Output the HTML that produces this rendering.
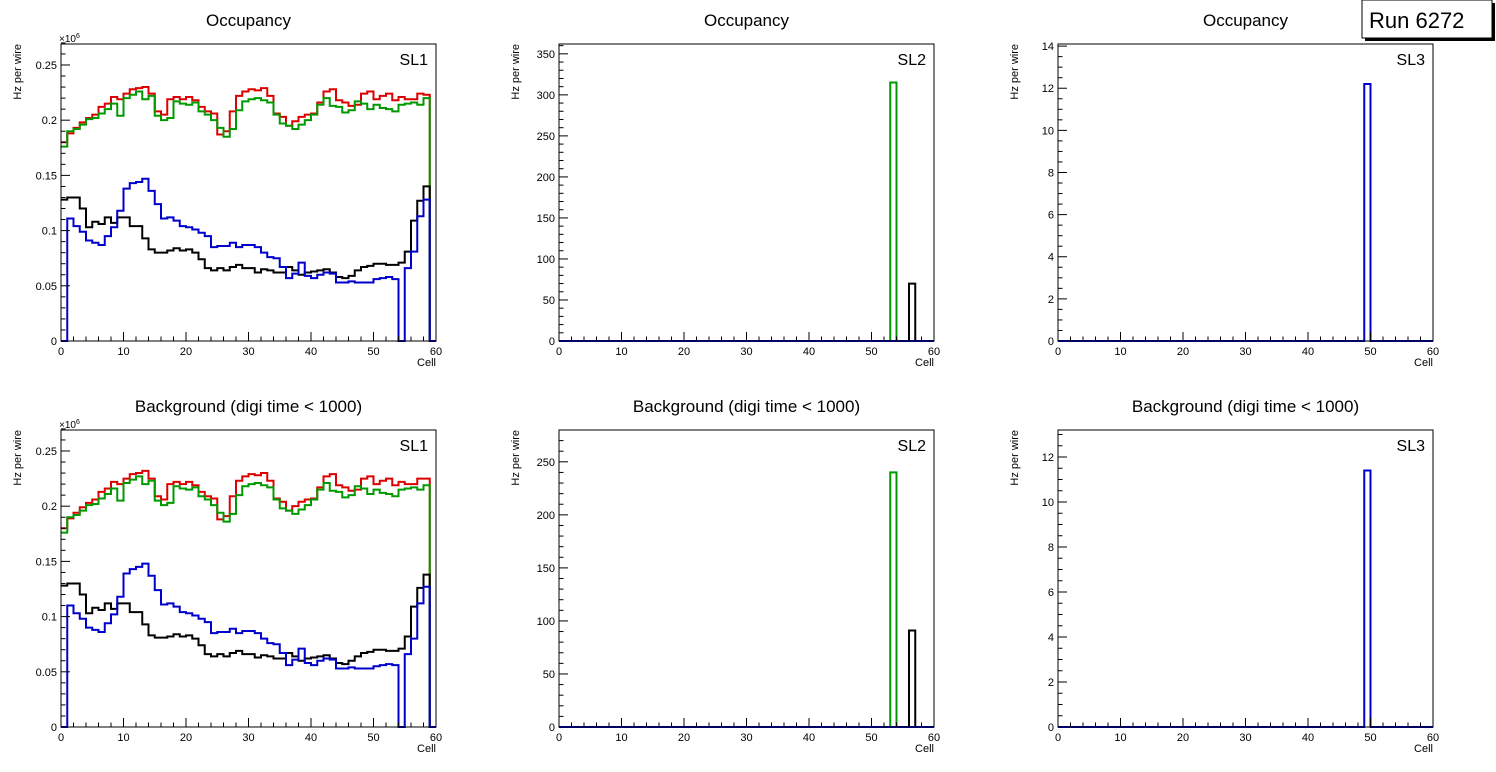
<!DOCTYPE html>
<html><head><meta charset="utf-8"><style>
body{margin:0;background:#fff;}
svg{display:block;font-family:"Liberation Sans",sans-serif;}
</style></head><body>
<svg id="c" width="1496" height="772" viewBox="0 0 1496 772"></svg>
<script>
const NS="http://www.w3.org/2000/svg";
const svg=document.getElementById('c');
// SL1 occupancy (x1e6 Hz per wire), 60 bins
const sl1Red=[0.180,0.188,0.193,0.198,0.202,0.205,0.212,0.215,0.221,0.219,0.224,0.228,0.229,0.230,0.224,0.208,0.205,0.219,0.221,0.219,0.221,0.218,0.212,0.208,0.206,0.187,0.190,0.208,0.222,0.226,0.228,0.227,0.229,0.222,0.206,0.203,0.195,0.199,0.203,0.205,0.206,0.216,0.226,0.228,0.218,0.216,0.213,0.214,0.224,0.226,0.219,0.222,0.224,0.218,0.221,0.219,0.219,0.224,0.223,0];
const sl1Green=[0.176,0.190,0.192,0.196,0.201,0.202,0.206,0.210,0.215,0.204,0.220,0.223,0.226,0.219,0.222,0.204,0.200,0.202,0.217,0.215,0.214,0.216,0.208,0.205,0.200,0.193,0.185,0.192,0.209,0.217,0.219,0.220,0.218,0.216,0.205,0.197,0.195,0.192,0.196,0.200,0.205,0.214,0.220,0.213,0.212,0.207,0.209,0.217,0.215,0.210,0.214,0.211,0.210,0.208,0.214,0.215,0.216,0.214,0.220,0];
const sl1Black=[0.128,0.130,0.130,0.120,0.103,0.108,0.106,0.112,0.107,0.112,0.112,0.104,0.104,0.093,0.083,0.080,0.080,0.082,0.084,0.082,0.083,0.080,0.074,0.066,0.064,0.066,0.064,0.067,0.069,0.066,0.066,0.062,0.065,0.064,0.062,0.062,0.067,0.064,0.060,0.062,0.063,0.064,0.065,0.062,0.058,0.057,0.059,0.064,0.067,0.068,0.070,0.070,0.069,0.069,0.071,0.081,0.109,0.127,0.140,0];
const sl1Blue=[0,0.111,0.104,0.099,0.091,0.089,0.087,0.095,0.103,0.118,0.138,0.143,0.144,0.147,0.136,0.124,0.111,0.112,0.109,0.104,0.103,0.101,0.098,0.095,0.085,0.086,0.086,0.089,0.085,0.087,0.087,0.085,0.080,0.076,0.075,0.067,0.057,0.061,0.071,0.059,0.057,0.060,0.062,0.061,0.053,0.053,0.054,0.053,0.053,0.053,0.056,0.057,0.058,0.056,0,0.066,0.081,0.113,0.128,0];
// background SL1
const bgRed=[0.180,0.189,0.194,0.199,0.203,0.206,0.213,0.216,0.222,0.220,0.225,0.229,0.230,0.232,0.225,0.209,0.206,0.220,0.222,0.220,0.222,0.219,0.213,0.209,0.207,0.188,0.191,0.209,0.223,0.227,0.229,0.228,0.230,0.223,0.207,0.204,0.196,0.200,0.204,0.206,0.207,0.217,0.227,0.229,0.219,0.217,0.214,0.215,0.225,0.227,0.220,0.223,0.225,0.219,0.222,0.220,0.220,0.225,0.225,0];
const bgGreen=[0.176,0.190,0.192,0.196,0.201,0.202,0.207,0.211,0.216,0.205,0.221,0.224,0.227,0.220,0.223,0.205,0.201,0.203,0.218,0.216,0.215,0.217,0.209,0.206,0.201,0.194,0.186,0.193,0.210,0.218,0.220,0.221,0.219,0.217,0.206,0.198,0.196,0.193,0.197,0.201,0.206,0.215,0.221,0.214,0.213,0.208,0.210,0.218,0.216,0.211,0.215,0.212,0.211,0.209,0.215,0.216,0.217,0.215,0.219,0];
const bgBlack=[0.128,0.130,0.130,0.120,0.103,0.108,0.106,0.112,0.107,0.112,0.112,0.104,0.104,0.093,0.083,0.081,0.081,0.082,0.084,0.082,0.083,0.080,0.074,0.066,0.064,0.066,0.064,0.067,0.069,0.066,0.066,0.063,0.065,0.064,0.062,0.062,0.067,0.064,0.060,0.062,0.063,0.064,0.065,0.062,0.058,0.057,0.060,0.064,0.067,0.068,0.070,0.070,0.069,0.069,0.071,0.082,0.109,0.126,0.138,0];
const bgBlue=[0,0.110,0.103,0.098,0.090,0.088,0.086,0.094,0.102,0.118,0.139,0.143,0.145,0.148,0.137,0.124,0.111,0.112,0.109,0.104,0.103,0.101,0.098,0.095,0.085,0.086,0.086,0.089,0.085,0.087,0.087,0.085,0.080,0.076,0.075,0.067,0.056,0.061,0.071,0.058,0.056,0.060,0.062,0.061,0.053,0.053,0.054,0.053,0.053,0.053,0.055,0.056,0.057,0.056,0,0.066,0.080,0.112,0.127,0];
// spikes: [bin, value]
const occSl2Green=[[53,315]];
const occSl2Black=[[56,70]];
const bgSl2Green=[[53,240]];
const bgSl2Black=[[56,91]];
const occSl3Blue=[[49,12.2]];
const bgSl3Blue=[[49,11.4]];
const xTicks=[0,10,20,30,40,50,60];

function el(tag,attrs,parent){const e=document.createElementNS(NS,tag);for(const k in attrs)e.setAttribute(k,attrs[k]);(parent||svg).appendChild(e);return e;}
function txt(s,attrs,parent){const e=el('text',attrs,parent);e.textContent=s;return e;}
function spikes(list){const a=new Array(60).fill(0);list.forEach(p=>a[p[0]]=p[1]);return a;}

function pad(o){
  const g=el('g',{});
  
  
  const L=o.x,R=o.x+375,T=o.y,B=o.y+297;
  const sx=v=>L+(v/60)*(R-L), sy=v=>B-(v/o.ymax)*(B-T);
  const t=txt(o.title,{x:(L+R)/2,y:T-18,'text-anchor':'middle','font-size':17},g);
  
  // series
  o.series.forEach(s=>{
    let d='M'+sx(0)+','+sy(s.v[0]);
    for(let i=0;i<60;i++){d+=' V'+sy(s.v[i])+' H'+sx(i+1);}
    const p=el('path',{d:d,fill:'none',stroke:s.c,'stroke-width':2},g);
    
  });
  const fr=el('rect',{x:L,y:T,width:R-L,height:B-T,fill:'none',stroke:'#000','stroke-width':1},g);
  
  // x ticks
  for(let v=0;v<=60;v+=2){const major=v%10===0;el('line',{x1:sx(v),x2:sx(v),y1:B,y2:B-(major?9:4.5),stroke:'#000','stroke-width':1},g);}
  xTicks.forEach(v=>{const e=txt(String(v),{x:sx(v),y:B+14,'text-anchor':'middle','font-size':11},g);});
  const xt=txt('Cell',{x:R,y:B+25,'text-anchor':'end','font-size':11},g);
  
  // y ticks
  const nMinor=Math.round(o.ymax/o.minor+1e-6);
  for(let i=0;i<=nMinor;i++){const v=i*o.minor;const major=Math.abs(v/o.major-Math.round(v/o.major))<1e-6;el('line',{x1:L,x2:L+(major?9:4.5),y1:sy(v),y2:sy(v),stroke:'#000','stroke-width':1},g);}
  o.yTicks.forEach((lab,i)=>{const v=i*o.major;const e=txt(lab,{x:L-4,y:sy(v)+4,'text-anchor':'end','font-size':11},g);});
  const yt=txt('Hz per wire',{x:0,y:0,'text-anchor':'end','font-size':11,transform:'translate('+(L-40)+','+T+') rotate(-90)'},g);
  
  if(o.exp){const e=txt('×10',{x:L-2,y:T-2,'font-size':10},g);el('tspan',{dy:-4,'font-size':7},e).textContent='6';}
  const sl=txt(o.sl,{x:R-8,y:T+21,'text-anchor':'end','font-size':16},g);
  
}
const sl1Ticks=['0','0.05','0.1','0.15','0.2','0.25'];
const sl2Ticks=['0','50','100','150','200','250','300','350'];
const sl3Ticks=['0','2','4','6','8','10','12','14'];
const zero=new Array(60).fill(0);
pad({name:'occupancy-sl1',x:61,y:44,title:'Occupancy',sl:'SL1',ymax:0.269,major:0.05,minor:0.01,yTicks:sl1Ticks,exp:true,
 series:[{n:'series-red',c:'#d00',v:sl1Red},{n:'series-green',c:'#090',v:sl1Green},{n:'series-black',c:'#000',v:sl1Black},{n:'series-blue',c:'#00c',v:sl1Blue}]});
pad({name:'occupancy-sl2',x:559,y:44,title:'Occupancy',sl:'SL2',ymax:362,major:50,minor:10,yTicks:sl2Ticks,
 series:[{n:'series-green',c:'#090',v:spikes(occSl2Green)},{n:'series-black',c:'#000',v:spikes(occSl2Black)},{n:'series-blue',c:'#00c',v:zero}]});
pad({name:'occupancy-sl3',x:1058,y:44,title:'Occupancy',sl:'SL3',ymax:14.1,major:2,minor:0.5,yTicks:sl3Ticks,
 series:[{n:'series-blue',c:'#00c',v:spikes(occSl3Blue)}]});
pad({name:'background-sl1',x:61,y:430,title:'Background (digi time < 1000)',sl:'SL1',ymax:0.269,major:0.05,minor:0.01,yTicks:sl1Ticks,exp:true,
 series:[{n:'series-red',c:'#d00',v:bgRed},{n:'series-green',c:'#090',v:bgGreen},{n:'series-black',c:'#000',v:bgBlack},{n:'series-blue',c:'#00c',v:bgBlue}]});
pad({name:'background-sl2',x:559,y:430,title:'Background (digi time < 1000)',sl:'SL2',ymax:280,major:50,minor:10,yTicks:sl2Ticks.slice(0,6),
 series:[{n:'series-green',c:'#090',v:spikes(bgSl2Green)},{n:'series-black',c:'#000',v:spikes(bgSl2Black)},{n:'series-blue',c:'#00c',v:zero}]});
pad({name:'background-sl3',x:1058,y:430,title:'Background (digi time < 1000)',sl:'SL3',ymax:13.2,major:2,minor:0.5,yTicks:sl3Ticks.slice(0,7),
 series:[{n:'series-blue',c:'#00c',v:spikes(bgSl3Blue)}]});
// run box
const rb=el('g',{});


el('rect',{x:1365,y:3,width:130,height:38,fill:'#000'},rb);
el('rect',{x:1362,y:0,width:130,height:38,fill:'#fff',stroke:'#000','stroke-width':1},rb);
txt('Run 6272',{x:1369,y:28,'font-size':22},rb);
</script>
</body></html>
